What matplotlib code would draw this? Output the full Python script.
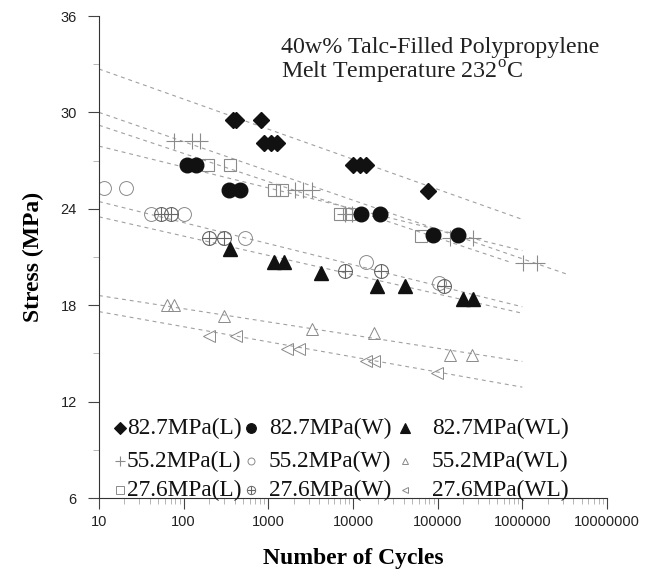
import numpy as np
import matplotlib
matplotlib.use("Agg")
import matplotlib.pyplot as plt
from matplotlib.lines import Line2D
from matplotlib.ticker import FixedLocator, FuncFormatter, LogLocator, NullFormatter

# ---- fatigue data: cycles to failure and stress amplitude (MPa) ----
l827_n = [380, 410, 826, 897, 1086, 1280, 10100, 11950, 14070, 76200]
l827_s = [29.5, 29.5, 29.5, 28.1, 28.1, 28.1, 26.7, 26.7, 26.7, 25.1]

w827_n = [110, 140, 345, 460, 12600, 21100, 87000, 172000]
w827_s = [26.7, 26.7, 25.2, 25.2, 23.7, 23.7, 22.4, 22.4]

wl827_n = [355, 1180, 1545, 4240, 18970, 40600, 197600, 259000]
wl827_s = [21.5, 20.7, 20.7, 20.0, 19.2, 19.2, 18.4, 18.4]

l552_n = [77, 126, 157, 2050, 2560, 3240, 8100, 9800, 138000, 259000, 1010000, 1500000]
l552_s = [28.2, 28.2, 28.2, 25.2, 25.2, 25.2, 23.7, 23.7, 22.2, 22.2, 20.6, 20.6]

w552_n = [11.5, 21, 41, 101, 535, 14070, 105000]
w552_s = [25.3, 25.3, 23.7, 23.7, 22.2, 20.7, 19.4]

wl552_n = [64, 77, 301, 3300, 17900, 139000, 252000]
wl552_s = [18.0, 18.0, 17.3, 16.5, 16.3, 14.9, 14.9]

l276_n = [195, 355, 1180, 1465, 7080, 8880, 64400]
l276_s = [26.7, 26.7, 25.2, 25.2, 23.7, 23.7, 22.3]

w276_n = [54, 71, 200, 301, 8100, 21700, 118000]
w276_s = [23.7, 23.7, 22.2, 22.2, 20.1, 20.1, 19.2]

wl276_n = [200, 418, 1680, 2330, 14400, 17900, 97300]
wl276_s = [16.1, 16.1, 15.3, 15.3, 14.5, 14.5, 13.75]

# ---- fitted S-N trend lines: stress at 10 cycles, end cycles, stress at end ----
fit_names = ["82.7L", "55.2L", "27.6L", "82.7W", "55.2W", "82.7WL", "55.2WL", "27.6WL"]
fit_s0 = [32.7, 30.0, 29.2, 27.9, 24.45, 23.5, 18.6, 17.6]
fit_n1 = [1.05e6, 3.5e6, 7.0e5, 1.0e6, 1.0e6, 1.0e6, 1.0e6, 1.0e6]
fit_s1 = [23.3, 19.9, 20.7, 21.4, 17.9, 17.5, 14.5, 12.9]

x_ticks = [10, 100, 1000, 10000, 100000, 1000000, 10000000]
y_ticks = [6, 12, 18, 24, 30, 36]

W, H = 645, 574
SERIF = ["Liberation Serif", "DejaVu Serif"]
SANS = ["Liberation Sans", "DejaVu Sans"]
plt.rcParams["mathtext.fontset"] = "custom"
plt.rcParams["mathtext.rm"] = "Liberation Serif"

fig = plt.figure(figsize=(W / 100, H / 100), dpi=100)
ax = fig.add_axes([99 / W, 1 - 498 / H, 508 / W, (498 - 16) / H])

def px(x, y):
    return x / W, 1 - y / H

# trend lines
for s0, n1, s1 in zip(fit_s0, fit_n1, fit_s1):
    ax.plot([10, n1], [s0, s1], color="#a0a0a0", lw=0.8, ls=(0, (3.5, 3.5)), zorder=1)

BLACK = "#111111"
GRAY = "#8a8a8a"
DGRAY = "#666666"

# filled markers (82.7 MPa)
ax.plot(l827_n, l827_s, ls="none", marker="D", ms=8, color=BLACK, zorder=3)
ax.plot(w827_n, w827_s, ls="none", marker="o", ms=10.5, color=BLACK, zorder=3)
ax.plot(wl827_n, wl827_s, ls="none", marker="^", ms=10, color=BLACK, zorder=3)

# open markers (55.2 and 27.6 MPa)
ax.plot(l552_n, l552_s, ls="none", marker="+", ms=11, mew=0.8, color=GRAY, zorder=2)
ax.plot(w552_n, w552_s, ls="none", marker="o", ms=10, mfc="none", mew=0.7, mec=GRAY, zorder=2)
ax.plot(wl552_n, wl552_s, ls="none", marker="^", ms=9, mfc="none", mew=0.7, mec=GRAY, zorder=2)
ax.plot(l276_n, l276_s, ls="none", marker="s", ms=9, mfc="none", mew=0.8, mec=GRAY, zorder=2)
ax.plot(w276_n, w276_s, ls="none", marker="o", ms=10, mfc="none", mew=0.8, mec=DGRAY, zorder=2)
ax.plot(w276_n, w276_s, ls="none", marker="+", ms=10, mew=0.8, color=DGRAY, zorder=2)
ax.plot(wl276_n, wl276_s, ls="none", marker="<", ms=9, mfc="none", mew=0.7, mec=GRAY, zorder=2)

# axes styling
ax.set_xscale("log")
ax.set_xlim(10, 1e7)
ax.set_ylim(6, 36)
for side in ("top", "right"):
    ax.spines[side].set_visible(False)
for side in ("left", "bottom"):
    ax.spines[side].set_color("#333333")
    ax.spines[side].set_linewidth(0.8)

ax.xaxis.set_major_locator(FixedLocator(x_ticks))
ax.xaxis.set_major_formatter(FuncFormatter(lambda v, p: f"{int(round(v))}"))
ax.xaxis.set_minor_locator(LogLocator(base=10, subs=np.arange(2, 10)))
ax.xaxis.set_minor_formatter(NullFormatter())
ax.yaxis.set_major_locator(FixedLocator(y_ticks))
ax.yaxis.set_minor_locator(FixedLocator([9, 15, 21, 27, 33]))

ax.tick_params(axis="both", which="major", direction="out", length=8, width=0.8,
               color="#444444", labelsize=10.5, labelcolor="#222222")
ax.tick_params(axis="both", which="minor", direction="out", length=4, width=0.6,
               color="#aaaaaa")
ax.tick_params(axis="x", which="major", pad=4)
ax.tick_params(axis="y", which="major", pad=8)
for lab in ax.get_xticklabels() + ax.get_yticklabels():
    lab.set_family(SANS)

ax.set_xlabel("Number of Cycles", family=SERIF, fontweight="bold", fontsize=17, labelpad=14)
ax.set_ylabel("Stress (MPa)", family=SERIF, fontweight="bold", fontsize=17, labelpad=12)

# annotation
fig.text(*px(281, 53), "40w% Talc-Filled Polypropylene", family=SERIF, fontsize=17.3,
         color="#222222", va="baseline", ha="left")
fig.text(*px(281, 79), r"Melt Temperature 232$^{\mathrm{o}}$C", family=SERIF, fontsize=17.3,
         color="#222222", va="baseline", ha="left")

# key rows
key_rows = [
    [("D", BLACK, True, 6, "82.7MPa(L)"), ("o", BLACK, True, 7, "82.7MPa(W)"), ("^", BLACK, True, 7, "82.7MPa(WL)")],
    [("+", GRAY, False, 7, "55.2MPa(L)"), ("o", GRAY, False, 5, "55.2MPa(W)"), ("^", GRAY, False, 5, "55.2MPa(WL)")],
    [("s", GRAY, False, 6, "27.6MPa(L)"), ("o+", DGRAY, False, 6, "27.6MPa(W)"), ("<", GRAY, False, 5, "27.6MPa(WL)")],
]
row_y = [428, 461, 490]
mark_x = [120, 251, 405]
text_x = [127, 269, 432]
for r, row in enumerate(key_rows):
    for c, (m, col, filled, ms, label) in enumerate(row):
        fx, fy = px(mark_x[c], row_y[r])
        marks = ["o", "+"] if m == "o+" else [m]
        for mm in marks:
            kw = dict(marker=mm, ms=ms, ls="none", transform=fig.transFigure)
            if filled or mm == "+":
                kw.update(color=col, mew=0.8)
            else:
                kw.update(mfc="none", mec=col, mew=0.7)
            fig.add_artist(Line2D([fx], [fy], **kw))
        tx, ty = px(text_x[c], row_y[r])
        fig.text(tx, ty, label, family=SERIF, fontsize=16.8, color="#111111",
                 va="center", ha="left")

fig.savefig("out.png", dpi=100)
